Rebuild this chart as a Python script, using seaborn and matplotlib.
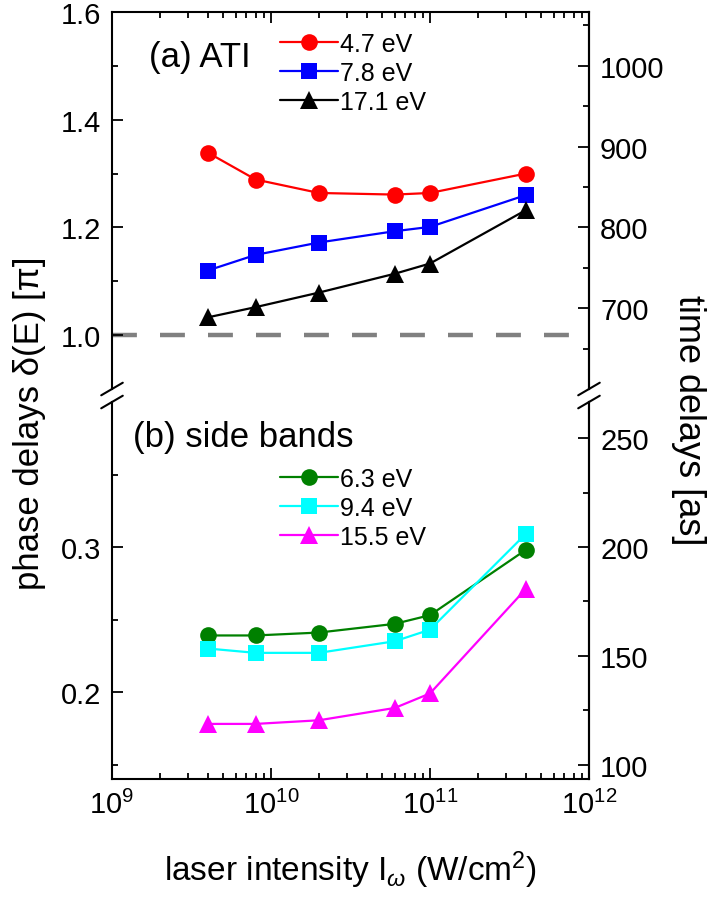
import numpy as np
import pandas as pd
import matplotlib
matplotlib.use("Agg")
import matplotlib.pyplot as plt
import seaborn as sns
from matplotlib.ticker import FixedLocator, LogLocator, NullFormatter, FormatStrFormatter

# ---------------- data ----------------
intensity = [4e9, 8e9, 2e10, 6e10, 1e11, 4e11]

ati_labels = ["4.7 eV", "7.8 eV", "17.1 eV"]
ati_47 = [1.339, 1.289, 1.264, 1.261, 1.264, 1.300]
ati_78 = [1.120, 1.149, 1.172, 1.193, 1.201, 1.260]
ati_171 = [1.033, 1.052, 1.079, 1.114, 1.133, 1.232]

sb_labels = ["6.3 eV", "9.4 eV", "15.5 eV"]
sb_63 = [0.239, 0.239, 0.241, 0.247, 0.253, 0.298]
sb_94 = [0.230, 0.227, 0.227, 0.235, 0.243, 0.309]
sb_155 = [0.178, 0.178, 0.1805, 0.189, 0.199, 0.271]

AS_PER_PI = 2666.67 / 4.0   # phase delay (units of pi) -> time delay (as)

# ---------------- style ----------------
sns.set_style("ticks")
plt.rcParams["font.family"] = ["Liberation Sans", "DejaVu Sans"]
plt.rcParams["mathtext.fontset"] = "custom"
plt.rcParams["mathtext.rm"] = "Liberation Sans"
plt.rcParams["mathtext.it"] = "Liberation Sans:italic"
plt.rcParams["mathtext.bf"] = "Liberation Sans:bold"
plt.rcParams["axes.linewidth"] = 1.5
for k in ("text.color", "axes.labelcolor", "xtick.color", "ytick.color", "axes.edgecolor"):
    plt.rcParams[k] = "black"

fig = plt.figure(figsize=(7.08, 9.03), dpi=100)
ax_top = fig.add_axes([0.1582, 0.5681, 0.6737, 0.4175])
ax_bot = fig.add_axes([0.1582, 0.1362, 0.6737, 0.4175])

df_top = pd.DataFrame({"x": intensity * 3,
                       "y": ati_47 + ati_78 + ati_171,
                       "s": sum([[l] * len(intensity) for l in ati_labels], [])})
df_bot = pd.DataFrame({"x": intensity * 3,
                       "y": sb_63 + sb_94 + sb_155,
                       "s": sum([[l] * len(intensity) for l in sb_labels], [])})

top_style = [("#ff0000", "o", 12), ("#0000ff", "s", 11), ("#000000", "^", 13)]
bot_style = [("#008000", "o", 12), ("#00ffff", "s", 11), ("#ff00ff", "^", 13)]

for ax, df, labels, styles in [(ax_top, df_top, ati_labels, top_style),
                               (ax_bot, df_bot, sb_labels, bot_style)]:
    for lab, (c, m, ms) in zip(labels, styles):
        sub = df[df["s"] == lab]
        sns.lineplot(data=sub, x="x", y="y", ax=ax, color=c, marker=m,
                     markersize=ms, markeredgewidth=0, linewidth=1.6,
                     label=lab, sort=False)
    ax.set_xscale("log")
    ax.set_xlim(1e9, 1e12)
    ax.set_xlabel("")
    ax.set_ylabel("")

ax_top.axhline(1.0, color="#808080", lw=3.2, dashes=(5.6, 5.2), zorder=0.5)

ax_top.set_ylim(0.9, 1.6)
ax_bot.set_ylim(0.14, 0.40)
ax_top.yaxis.set_major_locator(FixedLocator([1.0, 1.2, 1.4, 1.6]))
ax_top.yaxis.set_minor_locator(FixedLocator([1.1, 1.3, 1.5]))
ax_bot.yaxis.set_major_locator(FixedLocator([0.2, 0.3]))
ax_bot.yaxis.set_minor_locator(FixedLocator([0.15, 0.25, 0.35]))
ax_top.yaxis.set_major_formatter(FormatStrFormatter("%.1f"))
ax_bot.yaxis.set_major_formatter(FormatStrFormatter("%.1f"))

for ax in (ax_top, ax_bot):
    ax.xaxis.set_major_locator(LogLocator(base=10, numticks=10))
    ax.xaxis.set_minor_locator(LogLocator(base=10, subs=np.arange(2, 10), numticks=20))
    ax.xaxis.set_minor_formatter(NullFormatter())

ax_top.spines["bottom"].set_visible(False)
ax_bot.spines["top"].set_visible(False)

TICK_FS = 21
common = dict(direction="in", width=1.3, colors="black")
ax_top.tick_params(axis="x", which="both", top=True, bottom=False,
                   labeltop=False, labelbottom=False, **common)
ax_bot.tick_params(axis="x", which="both", top=False, bottom=True,
                   labelbottom=True, labelsize=TICK_FS, pad=8, **common)
for ax in (ax_top, ax_bot):
    ax.tick_params(axis="y", which="both", left=True, right=False,
                   labelsize=TICK_FS, pad=8, **common)
    ax.tick_params(which="major", length=8)
    ax.tick_params(which="minor", length=4.5)

# right-hand time-delay axes
for ax, (lo, hi), maj, mnr in [(ax_top, (0.9, 1.6), [700, 800, 900, 1000], [650, 750, 850, 950, 1050]),
                               (ax_bot, (0.14, 0.40), [100, 150, 200, 250], [125, 175, 225])]:
    tw = ax.twinx()
    tw.set_ylim(lo * AS_PER_PI, hi * AS_PER_PI)
    tw.yaxis.set_major_locator(FixedLocator(maj))
    tw.yaxis.set_minor_locator(FixedLocator(mnr))
    for s in ("top", "bottom", "left"):
        tw.spines[s].set_visible(False)
    tw.spines["right"].set_linewidth(1.5)
    tw.tick_params(axis="y", which="both", right=True, left=False, labelright=True,
                   labelsize=TICK_FS, pad=8, **common)
    tw.tick_params(which="major", length=8)
    tw.tick_params(which="minor", length=4.5)

# legends
for ax, y0 in [(ax_top, 0.948), (ax_bot, 0.828)]:
    ax.legend(loc="upper left", bbox_to_anchor=(0.352, y0), frameon=False,
              fontsize=18, handlelength=2.32, handletextpad=0.1,
              labelspacing=0.2, borderaxespad=0, borderpad=0)

ax_top.text(0.0776, 0.857, "(a) ATI", transform=ax_top.transAxes, fontsize=25,
            va="baseline", ha="left")
ax_bot.text(0.044, 0.883, "(b) side bands", transform=ax_bot.transAxes, fontsize=25,
            va="baseline", ha="left")

# break marks
dx, dy = 0.0226, 0.0167
for ax, yb in [(ax_top, 0.0), (ax_bot, 1.0)]:
    for xb in (0.0, 1.0):
        ax.plot([xb - dx, xb + dx], [yb - dy, yb + dy], transform=ax.transAxes,
                color="black", lw=1.5, clip_on=False)

# axis labels
fig.text(0.042, 0.531, "phase delays δ(E) [π]", rotation=90, fontsize=25,
         ha="center", va="center")
fig.text(0.972, 0.535, "time delays [as]", rotation=270, fontsize=26,
         ha="center", va="center")
fig.text(0.495, 0.036, r"laser intensity I$_{\omega}$ (W/cm$^{2}$)", fontsize=24,
         ha="center", va="center")

fig.savefig("out.png", dpi=100)
